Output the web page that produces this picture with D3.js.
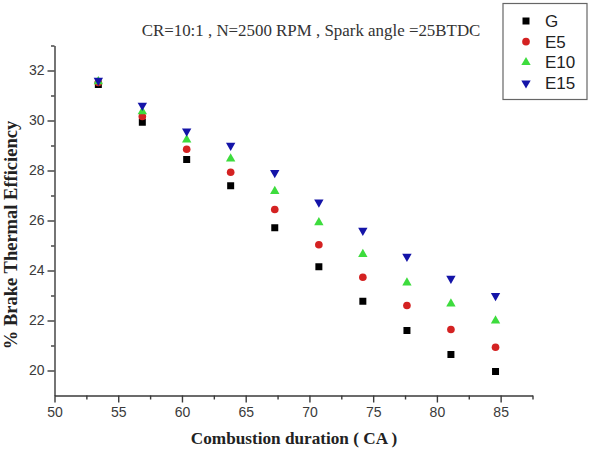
<!DOCTYPE html>
<html>
<head>
  <meta charset="utf-8">
  <title>Brake thermal efficiency</title>
  <script src="https://cdn.jsdelivr.net/npm/d3@7"></script>
  <style>
    body { margin: 0; background: #fff; }
  </style>
</head>
<body>
  <svg width="589" height="450" id="mainsvg"></svg>
  <script>
    // combustion duration (CA) for each of the 10 operating points
    const duration = [53.44, 56.89, 60.37, 63.82, 67.28, 70.74, 74.19, 77.65, 81.10, 84.60];
    const seriesNames = ['G', 'E5', 'E10', 'E15'];
    const bteG   = [31.44, 29.93, 28.44, 27.39, 25.71, 24.15, 22.77, 21.60, 20.64, 19.96];
    const bteE5  = [31.52, 30.16, 28.85, 27.93, 26.44, 25.03, 23.73, 22.60, 21.64, 20.93];
    const bteE10 = [31.56, 30.36, 29.23, 28.47, 27.17, 25.92, 24.65, 23.51, 22.67, 21.99];
    const bteE15 = [31.60, 30.60, 29.57, 29.00, 27.91, 26.73, 25.60, 24.56, 23.68, 22.99];
    const xTicks = [50, 55, 60, 65, 70, 75, 80, 85];
    const yTicks = [20, 22, 24, 26, 28, 30, 32];

    const svg = d3.select('#mainsvg');
    const axisColor = '#3a3a3a';

    const x = d3.scaleLinear().domain([50, 87.5]).range([54.5, 532.5]);
    const y = d3.scaleLinear().domain([19, 33]).range([395.5, 45.5]);

    const series = [
      { name: 'G', values: bteG, color: '#000000', shape: d3.symbolSquare, size: 49, rot: 0 },
      { name: 'E5', values: bteE5, color: '#d42222', shape: d3.symbolCircle, size: 46, rot: 0 },
      { name: 'E10', values: bteE10, color: '#3ddc3d', shape: d3.symbolTriangle, size: 38, rot: 0 },
      { name: 'E15', values: bteE15, color: '#1414a8', shape: d3.symbolTriangle, size: 38, rot: 180 }
    ];

    // minor ticks first, then major ticks with labels
    const xMinor = d3.range(52.5, 88, 5);
    const yMinor = d3.range(21, 34, 2);

    const xg = svg.append('g').attr('transform', `translate(0, ${y(19)})`);
    xg.call(d3.axisBottom(x).tickValues(xMinor).tickSize(4).tickFormat(''))
      .call(g => g.select('.domain').remove());
    xg.append('g').call(d3.axisBottom(x).tickValues(xTicks).tickSize(7).tickPadding(5).tickSizeOuter(0))
      .call(g => g.selectAll('text').attr('font-family', 'Liberation Sans, Arial, sans-serif')
        .attr('font-size', 14).attr('fill', axisColor));
    xg.selectAll('line, path').attr('stroke', axisColor).attr('stroke-width', 1.4);

    const yg = svg.append('g').attr('transform', `translate(${x(50)}, 0)`);
    yg.call(d3.axisLeft(y).tickValues(yMinor).tickSize(3.5).tickFormat(''))
      .call(g => g.select('.domain').remove());
    yg.append('g').call(d3.axisLeft(y).tickValues(yTicks).tickSize(7).tickPadding(3).tickSizeOuter(0))
      .call(g => g.selectAll('text').attr('font-family', 'Liberation Sans, Arial, sans-serif')
        .attr('font-size', 14).attr('fill', axisColor));
    yg.selectAll('line, path').attr('stroke', axisColor).attr('stroke-width', 1.4);

    // points
    series.forEach(s => {
      svg.append('g').selectAll('path').data(s.values).join('path')
        .attr('d', d3.symbol().type(s.shape).size(s.size))
        .attr('transform', (d, i) => `translate(${x(duration[i])}, ${y(d)}) rotate(${s.rot})`)
        .attr('fill', s.color);
    });

    // title
    svg.append('text')
      .attr('x', 311).attr('y', 36)
      .attr('text-anchor', 'middle')
      .attr('font-family', 'Liberation Serif, Times New Roman, serif')
      .attr('font-size', 16.9)
      .attr('fill', '#333')
      .text('CR=10:1 , N=2500 RPM , Spark angle =25BTDC');

    // axis titles
    svg.append('text')
      .attr('x', 294).attr('y', 444)
      .attr('text-anchor', 'middle')
      .attr('font-family', 'Liberation Serif, Times New Roman, serif')
      .attr('font-weight', 'bold')
      .attr('font-size', 17.2)
      .attr('fill', '#222')
      .text('Combustion duration ( CA )');

    svg.append('text')
      .attr('transform', 'translate(17, 235) rotate(-90)')
      .attr('text-anchor', 'middle')
      .attr('font-family', 'Liberation Serif, Times New Roman, serif')
      .attr('font-weight', 'bold')
      .attr('font-size', 18.5)
      .attr('fill', '#222')
      .text('% Brake Thermal Efficiency');

    // legend
    const lg = svg.append('g');
    lg.append('rect')
      .attr('x', 503).attr('y', 3.5).attr('width', 84).attr('height', 96)
      .attr('fill', '#fff').attr('stroke', '#666').attr('stroke-width', 1.2);
    series.forEach((s, i) => {
      const cy = 21 + i * 20.7;
      lg.append('path')
        .attr('d', d3.symbol().type(s.shape).size(s.size))
        .attr('transform', `translate(526, ${cy}) rotate(${s.rot})`)
        .attr('fill', s.color);
      lg.append('text')
        .attr('x', 545).attr('y', cy + 6)
        .attr('font-family', 'Liberation Sans, Arial, sans-serif')
        .attr('font-size', 17)
        .attr('fill', '#222')
        .text(seriesNames[i]);
    });
  </script>
</body>
</html>
